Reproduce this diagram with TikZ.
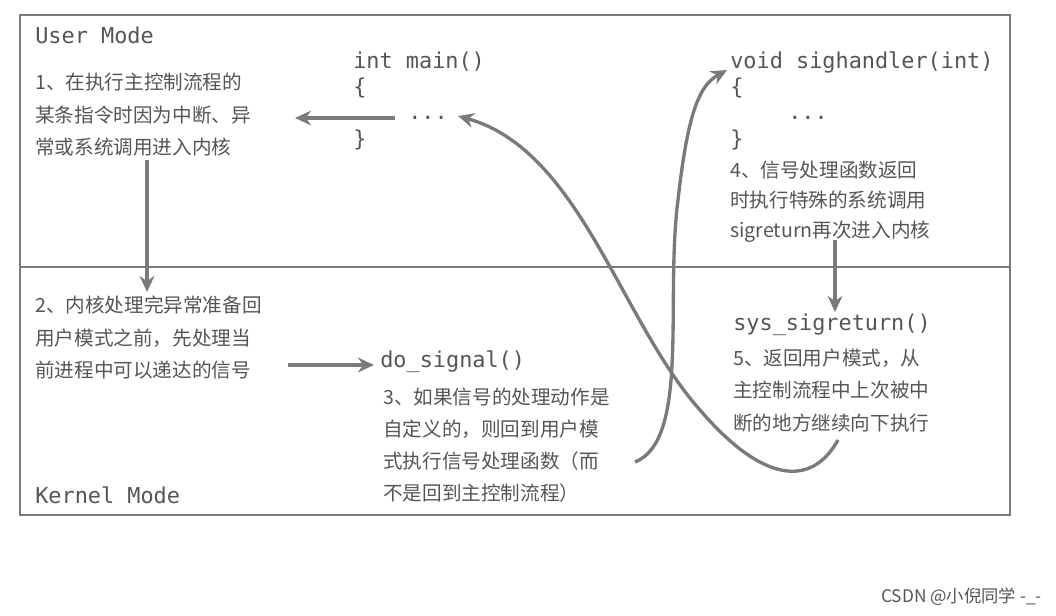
\documentclass[tikz,border=0pt]{standalone}
\usepackage{fontspec}
\setmainfont{Noto Sans CJK SC}
\newfontfamily\cjk{Noto Sans CJK SC}
\newfontfamily\mono{DejaVu Sans Mono}
\usetikzlibrary{arrows.meta}
\definecolor{tx}{HTML}{555555}
\definecolor{ln}{HTML}{7A7A7A}
\tikzset{
 zh/.style={anchor=west,text=tx,font=\cjk\fontsize{14.7}{16}\selectfont,inner sep=0},
 cd/.style={anchor=west,text=tx,font=\mono\fontsize{16.4}{18}\selectfont,inner sep=0},
 arr/.style={draw=ln,line width=2.5pt,-{Stealth[length=12pt,width=11pt]}},
}
\begin{document}
\begin{tikzpicture}[x=0.75pt,y=-0.75pt]
\useasboundingbox (0,0) rectangle (1056,615);
\draw[ln,line width=1.5pt] (20,15) rectangle (1010,515);
\draw[ln,line width=1.5pt] (20,267) -- (1010,267);
\node[cd] (um) at (35,35) {User Mode};
\node[cd] (km) at (35,495) {Kernel Mode};
\node[zh] (a1) at (35,82) {1、在执行主控制流程的};
\node[zh] at (35,115) {某条指令时因为中断、异};
\node[zh] at (35,147) {常或系统调用进入内核};
\node[cd] at (353,62) {int main()};
\node[cd] at (353,88) {\{};
\node[cd] (dots1) at (408,118) {...};
\node[cd] at (353,140) {\}};
\node[cd] (sh) at (730,62) {void sighandler(int)};
\node[cd] at (730,88) {\{};
\node[cd] at (788,118) {...};
\node[cd] at (730,140) {\}};
\node[zh] at (730,170) {4、信号处理函数返回};
\node[zh] at (730,200) {时执行特殊的系统调用};
\node[zh] at (730,232) {sigreturn再次进入内核};
\node[cd] (sys) at (733,325) {sys\_sigreturn()};
\node[zh] at (733,358) {5、返回用户模式，从};
\node[zh] at (733,390) {主控制流程中上次被中};
\node[zh] at (733,423) {断的地方继续向下执行};
\node[zh] at (35,305) {2、内核处理完异常准备回};
\node[zh] at (35,338) {用户模式之前，先处理当};
\node[zh] at (35,370) {前进程中可以递达的信号};
\node[cd] (ds) at (380,362) {do\_signal()};
\node[zh] at (383,397) {3、如果信号的处理动作是};
\node[zh] at (383,429) {自定义的，则回到用户模};
\node[zh] at (383,461) {式执行信号处理函数（而};
\node[zh] at (383,493) {不是回到主控制流程）};
\node[anchor=east,text=tx,font=\cjk\fontsize{13}{14}\selectfont,inner sep=0] at (1042,597) {CSDN @小倪同学 -\_-};
\coordinate (p1s) at (395,118); \coordinate (p1e) at (295,118);
\draw[arr] (p1s) -- (p1e);
\coordinate (p2s) at (147,160); \coordinate (p2e) at (147,292);
\draw[arr] (p2s) -- (p2e);
\coordinate (p3s) at (835,240); \coordinate (p3e) at (835,312);
\draw[arr] (p3s) -- (p3e);
\coordinate (p4s) at (288,365); \coordinate (p4e) at (374,365);
\draw[arr] (p4s) -- (p4e);
\coordinate (c1) at (635,462); \coordinate (c1e) at (727,70);
\draw[arr] (c1) .. controls (690,440) and (665,300) .. (678,200) .. controls (688,110) and (700,85) .. (c1e);
\coordinate (c2) at (838,440); \coordinate (c2e) at (458,116);
\draw[arr] (c2) .. controls (810,490) and (760,480) .. (700,410) .. controls (620,320) and (580,150) .. (c2e);
\end{tikzpicture}
\end{document}
